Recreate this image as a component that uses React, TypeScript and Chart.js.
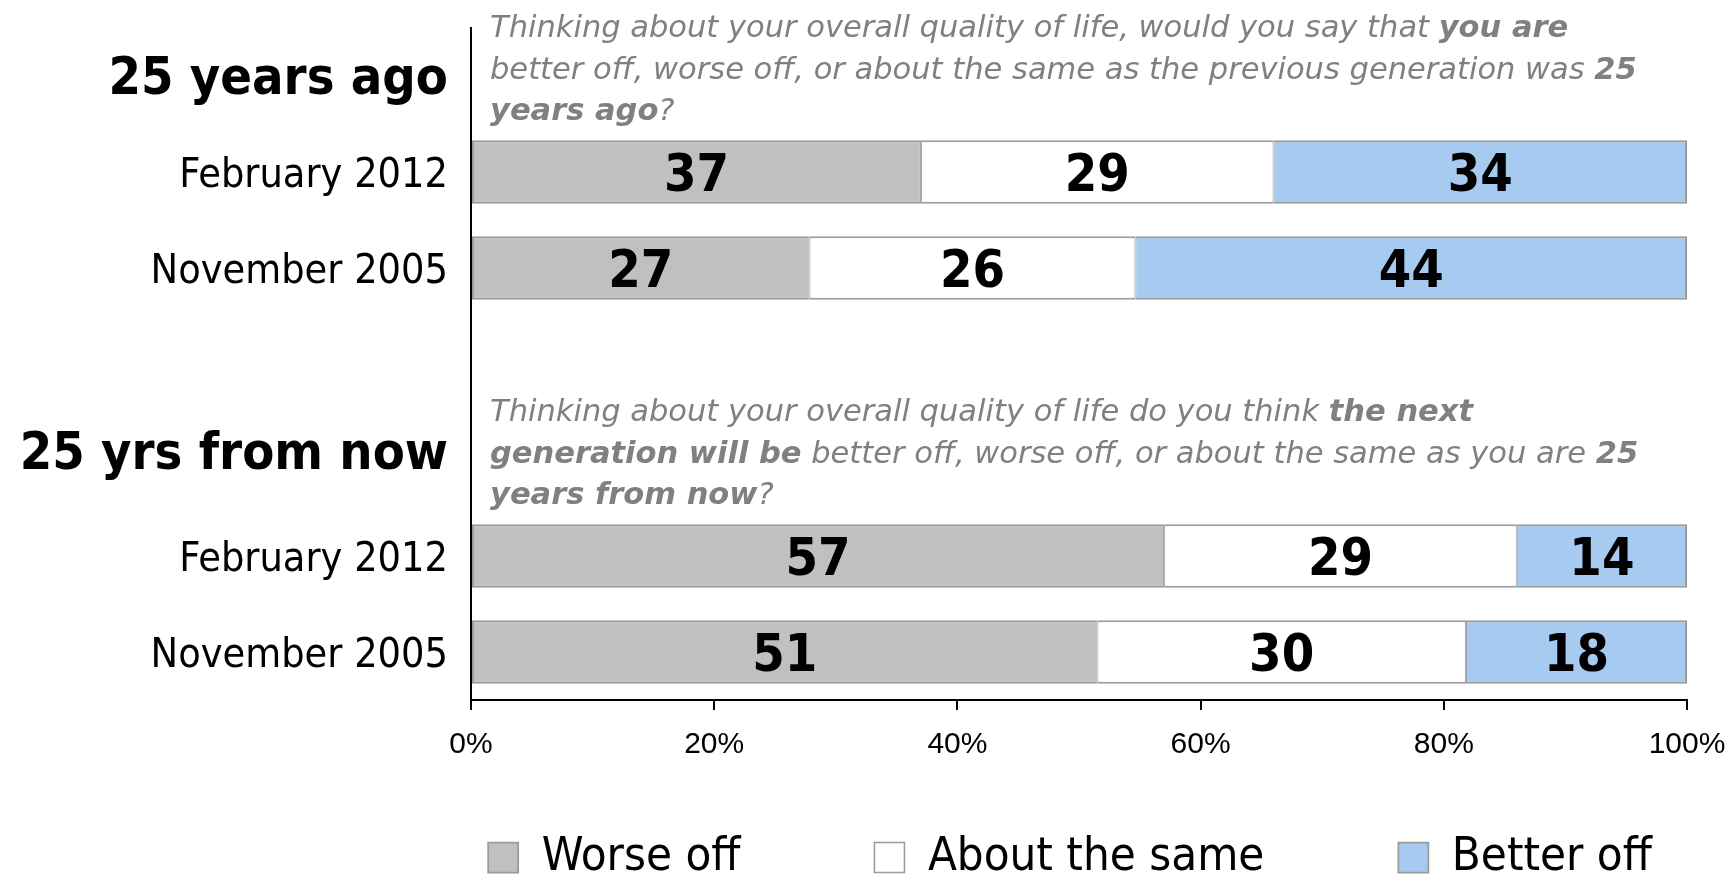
import React, { useEffect, useRef } from 'react';
import { Chart, registerables } from 'chart.js';

Chart.register(...registerables);

// ---------- data ----------
const categories = ['25 years ago', 'February 2012', 'November 2005', '', '25 yrs from now', 'February 2012', 'November 2005'];
const headerRows = [0, 4];
const seriesNames = ['Worse off', 'About the same', 'Better off'];
const worseOff = [null, 37, 27, null, null, 57, 51];
const aboutSame = [null, 29, 26, null, null, 29, 30];
const betterOff = [null, 34, 44, null, null, 14, 18];
const xTickValues = [0, 20, 40, 60, 80, 100];

type Seg = [string, boolean];
const question1: Seg[][] = [
  [['Thinking about your overall quality of life, would you say that ', false], ['you are', true]],
  [['better off, worse off, or about the same as the previous generation was ', false], ['25', true]],
  [['years ago', true], ['?', false]],
];
const question2: Seg[][] = [
  [['Thinking about your overall quality of life do you think ', false], ['the next', true]],
  [['generation will be', true], [' better off, worse off, or about the same as you are ', false], ['25', true]],
  [['years from now', true], ['?', false]],
];
const questions = [
  { row: 0, lines: question1 },
  { row: 4, lines: question2 },
];

// ---------- styles ----------
const CONDENSED = '"DejaVu Sans Condensed", "DejaVu Sans", sans-serif';
const WIDE = '"DejaVu Sans", Verdana, sans-serif';
const ARIAL = '"Liberation Sans", Arial, sans-serif';
const FILLS = ['#C0C0C0', '#FFFFFF', '#A6CAF0'];
const BORDER = '#9A9A9A';
const LEGEND_GAP = 134;

const seriesValues = [worseOff, aboutSame, betterOff];
const totals = categories.map((_, i) =>
  seriesValues.reduce((s, arr) => s + (arr[i] == null ? 0 : (arr[i] as number)), 0)
);

const valueLabelPlugin = {
  id: 'valueLabels',
  afterDatasetsDraw(chart: any) {
    const ctx = chart.ctx;
    ctx.save();
    ctx.font = `bold 52px ${CONDENSED}`;
    ctx.fillStyle = '#000';
    ctx.textAlign = 'center';
    ctx.textBaseline = 'middle';
    chart.data.datasets.forEach((ds: any, di: number) => {
      const meta = chart.getDatasetMeta(di);
      meta.data.forEach((el: any, i: number) => {
        const raw = seriesValues[di][i];
        if (raw == null) return;
        const p = el.getCenterPoint();
        ctx.fillText(String(raw), p.x, p.y + 5);
      });
    });
    ctx.restore();
  },
};

const questionPlugin = {
  id: 'questionText',
  afterDraw(chart: any) {
    const ctx = chart.ctx;
    const yScale = chart.scales.y;
    const left = chart.chartArea.left + 19;
    const offsets = [-39, 2.5, 44];
    ctx.save();
    ctx.fillStyle = '#808080';
    ctx.textAlign = 'left';
    ctx.textBaseline = 'alphabetic';
    questions.forEach((q) => {
      const cy = yScale.getPixelForValue(q.row);
      q.lines.forEach((line, li) => {
        let x = left;
        const y = cy + offsets[li];
        line.forEach(([text, bold]) => {
          ctx.font = `italic ${bold ? 'bold' : 'normal'} 30.5px ${WIDE}`;
          ctx.fillText(text, x, y);
          x += ctx.measureText(text).width;
        });
      });
    });
    ctx.restore();
  },
};

const zeroPadding = (s: any) => {
  s.paddingLeft = 0;
  s.paddingRight = 0;
  s.paddingTop = 0;
  s.paddingBottom = 0;
};

export default function App() {
  const ref = useRef<HTMLCanvasElement | null>(null);

  useEffect(() => {
    if (!ref.current) return;
    const datasets = seriesNames.map((name, si) => ({
      label: name,
      data: seriesValues[si].map((v, i) => (v == null ? null : ((v as number) / totals[i]) * 100)),
      backgroundColor: FILLS[si],
      borderColor: BORDER,
      borderWidth: {
        top: 2,
        bottom: 2,
        left: si === 0 ? 2 : 1,
        right: si === seriesNames.length - 1 ? 2 : 1,
      },
      borderSkipped: false,
      barPercentage: 0.66,
      categoryPercentage: 1,
    }));

    const chart = new Chart(ref.current, {
      type: 'bar',
      data: { labels: categories, datasets },
      options: {
        indexAxis: 'y',
        responsive: false,
        animation: false,
        devicePixelRatio: 1,
        // negative right padding + invisible right spacer lets the full-width legend be centred under the bars
        layout: { padding: { top: 28, right: -409, bottom: -17, left: 0 } },
        scales: {
          x: {
            type: 'linear',
            stacked: true,
            min: 0,
            max: 100,
            position: 'bottom',
            afterBuildTicks: (s: any) => {
              s.ticks = xTickValues.map((v) => ({ value: v }));
            },
            afterFit: (s: any) => {
              s.height = 0;
              zeroPadding(s);
            },
            border: { display: true, color: '#000', width: 2 },
            grid: {
              display: true,
              drawOnChartArea: false,
              drawTicks: true,
              tickLength: 10,
              tickColor: '#000',
              lineWidth: 2,
            },
            ticks: {
              mirror: true,
              padding: -63,
              color: '#000',
              maxRotation: 0,
              autoSkip: false,
              font: { family: ARIAL, size: 30 },
              callback: (v: any) => `${v}%`,
            },
          },
          y: {
            type: 'category',
            stacked: true,
            position: 'left',
            offset: true,
            afterFit: (s: any) => {
              s.width = 471;
              zeroPadding(s);
            },
            border: { display: true, color: '#000', width: 2 },
            grid: { display: false, drawTicks: false },
            ticks: {
              padding: 23,
              labelOffset: 4,
              color: '#000',
              autoSkip: false,
              callback: (_v: any, i: number) => (i === 4 ? [categories[i], ''] : categories[i]),
              font: (c: any) =>
                headerRows.includes(c.index)
                  ? { family: CONDENSED, size: 52, weight: 'bold', lineHeight: c.index === 4 ? '17px' : 1.2 }
                  : { family: CONDENSED, size: 41, weight: 'normal' },
            },
          },
          spacer: {
            type: 'category',
            position: 'right',
            display: true,
            afterFit: (s: any) => {
              s.width = 453;
              zeroPadding(s);
            },
            border: { display: false },
            grid: { display: false, drawTicks: false },
            ticks: { display: false },
          },
        },
        plugins: {
          legend: {
            display: true,
            position: 'bottom',
            fullSize: true,
            align: 'center',
            labels: {
              color: '#000',
              boxWidth: 30,
              boxHeight: 30,
              padding: LEGEND_GAP,
              font: { family: CONDENSED, size: 47 },
            },
          },
          tooltip: { enabled: false },
          title: { display: false },
        },
      } as any,
      plugins: [valueLabelPlugin, questionPlugin],
    });
    return () => chart.destroy();
  }, []);

  return (
    <div style={{ position: 'fixed', left: 0, top: 0, width: 1731, height: 874, background: '#fff', overflow: 'hidden' }}>
      <canvas ref={ref} width={1731} height={874} style={{ width: 1731, height: 874, display: 'block' }} />
    </div>
  );
}
